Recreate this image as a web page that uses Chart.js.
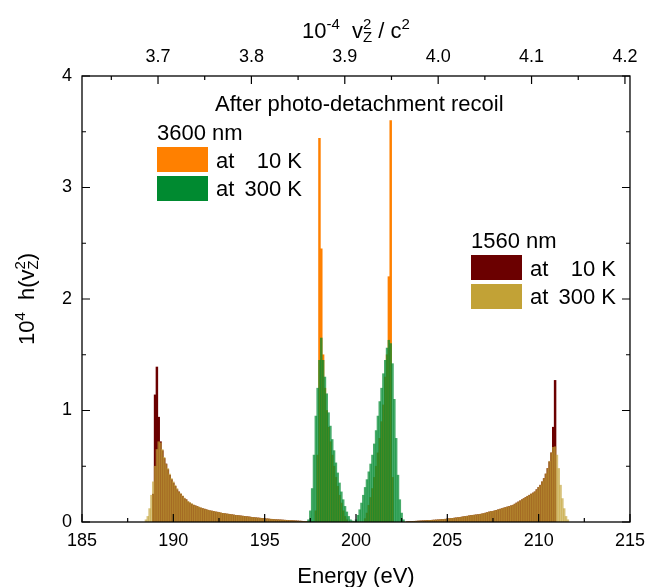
<!DOCTYPE html>
<html>
<head>
<meta charset="utf-8">
<script src="https://cdn.jsdelivr.net/npm/chart.js@4.4.1/dist/chart.umd.min.js"></script>
<style>
  html, body { margin: 0; padding: 0; background: #fff; }
</style>
</head>
<body>
<canvas id="chart" width="653" height="587"></canvas>
<script>
// histogram bins are 0.1 eV wide, each array starts at the given bin centre
const binWidth = 0.1;
const energyMin = 185;
const energyMax = 215;
// 10^-4 v_z^2/c^2 per eV
const vScale = 0.01956;

const energyTicks = [185, 190, 195, 200, 205, 210, 215];
const yTicks = [0, 1, 2, 3, 4];

// 1560 nm at 10 K
const start1560coldLow = 188.9;
const h1560coldLow = [
  0.25, 1.14, 1.39, 0.94, 0.72, 0.64, 0.57, 0.52, 0.47, 0.42, 0.38,
  0.35, 0.32, 0.29, 0.27, 0.25, 0.23, 0.21, 0.20, 0.18, 0.17,
  0.16, 0.15, 0.145, 0.14, 0.13, 0.125, 0.12, 0.115, 0.11, 0.105,
  0.10, 0.098, 0.095, 0.09, 0.088, 0.085, 0.08, 0.078, 0.075, 0.072,
  0.07, 0.068, 0.065, 0.063, 0.06, 0.058, 0.056, 0.054, 0.052, 0.05,
  0.048, 0.046, 0.044, 0.042, 0.04, 0.038, 0.036, 0.035, 0.033, 0.031,
  0.03, 0.028, 0.027, 0.025, 0.024, 0.022, 0.021, 0.02, 0.019, 0.018,
  0.017, 0.016, 0.015, 0.014, 0.013, 0.012, 0.011, 0.01, 0.009, 0.008,
  0.007, 0.006, 0.005, 0.004, 0.003, 0.003, 0.002, 0.001
];
const start1560coldHigh = 202.8;
const h1560coldHigh = [
  0.002, 0.003,
  0.004, 0.005, 0.006, 0.007, 0.008, 0.009, 0.01, 0.011, 0.012, 0.013,
  0.014, 0.015, 0.016, 0.017, 0.018, 0.019, 0.02, 0.022, 0.023, 0.025,
  0.027, 0.029, 0.031, 0.033, 0.035, 0.037, 0.039, 0.041, 0.044, 0.047,
  0.05, 0.052, 0.055, 0.058, 0.06, 0.062, 0.064, 0.066, 0.069, 0.072,
  0.075, 0.08, 0.085, 0.09, 0.093, 0.096, 0.10, 0.105, 0.11, 0.115,
  0.12, 0.125, 0.13, 0.135, 0.14, 0.145, 0.15, 0.16, 0.17, 0.18,
  0.19, 0.20, 0.21, 0.22, 0.23, 0.24, 0.25, 0.26, 0.27, 0.29,
  0.31, 0.33, 0.36, 0.39, 0.43, 0.48, 0.54, 0.62, 0.85, 1.27
];

// 1560 nm at 300 K
const start1560warmLow = 188.5;
const h1560warmLow = [
  0.02, 0.05, 0.12, 0.24, 0.36, 0.50, 0.65, 0.72, 0.71, 0.65, 0.58, 0.52, 0.48, 0.43, 0.39,
  0.36, 0.33, 0.30, 0.27, 0.255, 0.235, 0.215, 0.20, 0.185, 0.175,
  0.165, 0.155, 0.145, 0.14, 0.135, 0.128, 0.12, 0.117, 0.11, 0.107,
  0.102, 0.098, 0.096, 0.092, 0.088, 0.086, 0.082, 0.078, 0.076, 0.073,
  0.071, 0.068, 0.066, 0.063, 0.061, 0.058, 0.057, 0.054, 0.053, 0.05,
  0.049, 0.046, 0.045, 0.042, 0.041, 0.038, 0.037, 0.035, 0.034, 0.031,
  0.031, 0.028, 0.028, 0.025, 0.025, 0.022, 0.022, 0.02, 0.02, 0.018,
  0.018, 0.016, 0.016, 0.014, 0.014, 0.012, 0.012, 0.01, 0.01, 0.008,
  0.008, 0.006, 0.006, 0.005, 0.004, 0.003, 0.003, 0.002, 0.001, 0.001
];
const start1560warmHigh = 202.7;
const h1560warmHigh = [
  0.001, 0.002, 0.003,
  0.004, 0.005, 0.007, 0.007, 0.009, 0.009, 0.011, 0.011, 0.013, 0.013,
  0.015, 0.015, 0.017, 0.017, 0.019, 0.019, 0.021, 0.022, 0.024, 0.025,
  0.028, 0.029, 0.032, 0.033, 0.036, 0.037, 0.040, 0.041, 0.045, 0.047,
  0.051, 0.052, 0.056, 0.058, 0.061, 0.062, 0.065, 0.066, 0.07, 0.072,
  0.076, 0.08, 0.086, 0.09, 0.094, 0.096, 0.101, 0.105, 0.111, 0.115,
  0.121, 0.125, 0.131, 0.135, 0.141, 0.145, 0.152, 0.16, 0.171, 0.18,
  0.191, 0.20, 0.211, 0.22, 0.232, 0.24, 0.252, 0.26, 0.272, 0.29,
  0.312, 0.33, 0.362, 0.39, 0.432, 0.48, 0.545, 0.62, 0.67, 0.675,
  0.60, 0.48, 0.33, 0.21, 0.12, 0.05, 0.02
];

// 3600 nm at 10 K
const start3600cold = 197.8;
const h3600cold = [
  0.1, 0.6, 3.44, 2.45, 1.5, 1.2, 1.0, 0.85, 0.72, 0.6, 0.5, 0.4,
  0.32, 0.24, 0.17, 0.1, 0.05, 0.02,
  0, 0, 0, 0, 0, 0, 0, 0, 0,
  0.03, 0.08, 0.15, 0.22, 0.3, 0.4, 0.5, 0.62, 0.75, 0.9,
  1.05, 1.3, 1.5, 2.2, 3.6, 0.4
];

// 3600 nm at 300 K
const start3600warm = 197.4;
const h3600warm = [
  0.02, 0.1, 0.3, 0.6, 0.95, 1.2, 1.45, 1.65, 1.45, 1.30, 1.15, 0.98, 0.86,
  0.74, 0.64, 0.53, 0.44, 0.35, 0.27, 0.2, 0.14, 0.09, 0.05, 0.02, 0.01, 0.005,
  0.02, 0.06, 0.11, 0.17, 0.24, 0.31, 0.38, 0.45, 0.52, 0.6,
  0.7, 0.82, 0.95, 1.08, 1.2, 1.33, 1.45, 1.56, 1.63, 1.6,
  1.42, 1.1, 0.75, 0.42, 0.2, 0.08, 0.02
];

const seriesColors = {
  c3600cold: [255, 128, 0],
  c3600warm: [0, 138, 48],
  c1560cold: [107, 0, 0],
  c1560warm: [194, 162, 54]
};

function rgba(c, a) {
  return 'rgba(' + c[0] + ',' + c[1] + ',' + c[2] + ',' + a + ')';
}

function toPoints(start, heights) {
  let pts = [];
  heights.forEach(function (h, i) {
    // keep bin centres on the exact same 0.1 grid for every series
    pts.push({ x: Math.round(start / binWidth + i) * binWidth, y: h });
  });
  return pts;
}

const fontFamily = '"Liberation Sans", Arial, Helvetica, sans-serif';

// text with super/subscripts: parts are {t} or {sup, sub}
function richWidth(ctx, parts, size) {
  let w = 0;
  parts.forEach(function (p) {
    if (p.t !== undefined) {
      ctx.font = size + 'px ' + fontFamily;
      w += ctx.measureText(p.t).width;
    } else {
      ctx.font = Math.round(size * 0.68) + 'px ' + fontFamily;
      let a = p.sup ? ctx.measureText(p.sup).width : 0;
      let b = p.sub ? ctx.measureText(p.sub).width : 0;
      w += Math.max(a, b);
    }
  });
  return w;
}

function drawRich(ctx, parts, cx, baseY, size) {
  let x = cx - richWidth(ctx, parts, size) / 2;
  ctx.textAlign = 'left';
  ctx.textBaseline = 'alphabetic';
  parts.forEach(function (p) {
    if (p.t !== undefined) {
      ctx.font = size + 'px ' + fontFamily;
      ctx.fillText(p.t, x, baseY);
      x += ctx.measureText(p.t).width;
    } else {
      ctx.font = Math.round(size * 0.68) + 'px ' + fontFamily;
      let a = 0, b = 0;
      if (p.sup) { ctx.fillText(p.sup, x, baseY - size * 0.42); a = ctx.measureText(p.sup).width; }
      if (p.sub) { ctx.fillText(p.sub, x, baseY + size * 0.2); b = ctx.measureText(p.sub).width; }
      x += Math.max(a, b);
    }
  });
}

const framePlugin = {
  id: 'frame',
  afterDraw(chart) {
    const ctx = chart.ctx;
    const area = chart.chartArea;
    const sx = chart.scales.x, sx2 = chart.scales.x2, sy = chart.scales.y;
    ctx.save();
    ctx.strokeStyle = '#000';
    ctx.lineWidth = 1.3;
    ctx.strokeRect(area.left, area.top, area.right - area.left, area.bottom - area.top);

    ctx.lineWidth = 1.2;
    ctx.beginPath();
    for (let v = energyMin; v <= energyMax; v += 2.5) {
      let px = sx.getPixelForValue(v);
      let len = (v % 5 === 0) ? 8 : 4;
      ctx.moveTo(px, area.bottom);
      ctx.lineTo(px, area.bottom - len);
    }
    for (let k = 73; k <= 84; k++) {
      let v = k * 0.05;
      if (v < sx2.min || v > sx2.max) continue;
      let px = sx2.getPixelForValue(v);
      let len = (k % 2 === 0) ? 8 : 4;
      ctx.moveTo(px, area.top);
      ctx.lineTo(px, area.top + len);
    }
    for (let k = 0; k <= 8; k++) {
      let py = sy.getPixelForValue(k * 0.5);
      let len = (k % 2 === 0) ? 8 : 4;
      ctx.moveTo(area.left, py);
      ctx.lineTo(area.left + len, py);
      ctx.moveTo(area.right, py);
      ctx.lineTo(area.right - len, py);
    }
    ctx.stroke();

    ctx.fillStyle = '#000';
    const cx = (area.left + area.right) / 2;
    // axis titles
    drawRich(ctx, [{ t: '10' }, { sup: '-4' }, { t: '  v' }, { sup: '2', sub: 'Z' }, { t: ' / c' }, { sup: '2' }], cx, 38, 22);
    drawRich(ctx, [{ t: 'Energy (eV)' }], cx, 583, 22);
    ctx.save();
    ctx.translate(34, (area.top + area.bottom) / 2);
    ctx.rotate(-Math.PI / 2);
    drawRich(ctx, [{ t: '10' }, { sup: '4' }, { t: '  h(v' }, { sup: '2', sub: 'Z' }, { t: ')' }], 0, 0, 22);
    ctx.restore();

    ctx.font = '22px ' + fontFamily;
    ctx.textAlign = 'left';
    ctx.fillText('After photo-detachment recoil', 215, 111);

    // legends
    const groups = [
      { title: '3600 nm', x: 157, y: 140, cold: seriesColors.c3600cold, warm: seriesColors.c3600warm },
      { title: '1560 nm', x: 471, y: 248, cold: seriesColors.c1560cold, warm: seriesColors.c1560warm }
    ];
    groups.forEach(function (g) {
      ctx.font = '22px ' + fontFamily;
      ctx.fillStyle = '#000';
      ctx.textAlign = 'left';
      ctx.fillText(g.title, g.x, g.y);
      ctx.fillStyle = rgba(g.cold, 1);
      ctx.fillRect(g.x, g.y + 7, 51, 25);
      ctx.fillStyle = rgba(g.warm, 1);
      ctx.fillRect(g.x, g.y + 36, 51, 25);
      ctx.fillStyle = '#000';
      ctx.fillText('at', g.x + 59, g.y + 28);
      ctx.fillText('at', g.x + 59, g.y + 56);
      ctx.textAlign = 'right';
      ctx.fillText('10 K', g.x + 145, g.y + 28);
      ctx.fillText('300 K', g.x + 145, g.y + 56);
    });
    ctx.restore();
  }
};

const tickFont = { family: fontFamily, size: 18 };

new Chart(document.getElementById('chart'), {
  type: 'bar',
  data: {
    datasets: [
      {
        label: '3600 nm at 300 K',
        data: toPoints(start3600warm, h3600warm),
        backgroundColor: rgba(seriesColors.c3600warm, 0.72),
        order: 1
      },
      {
        label: '3600 nm at 10 K',
        data: toPoints(start3600cold, h3600cold),
        backgroundColor: rgba(seriesColors.c3600cold, 1),
        order: 2
      },
      {
        label: '1560 nm at 300 K',
        data: toPoints(start1560warmLow, h1560warmLow).concat(toPoints(start1560warmHigh, h1560warmHigh)),
        backgroundColor: rgba(seriesColors.c1560warm, 0.66),
        order: 3
      },
      {
        label: '1560 nm at 10 K',
        data: toPoints(start1560coldLow, h1560coldLow).concat(toPoints(start1560coldHigh, h1560coldHigh)),
        backgroundColor: rgba(seriesColors.c1560cold, 1),
        order: 4
      }
    ]
  },
  options: {
    responsive: false,
    animation: false,
    layout: { padding: 0 },
    datasets: {
      bar: { barPercentage: 1, categoryPercentage: 1, grouped: false, borderWidth: 0 }
    },
    plugins: {
      legend: { display: false },
      tooltip: { enabled: false }
    },
    scales: {
      x: {
        type: 'linear',
        position: 'bottom',
        offset: false,
        min: energyMin,
        max: energyMax,
        afterBuildTicks: function (s) { s.ticks = energyTicks.map(function (v) { return { value: v }; }); },
        ticks: { font: tickFont, color: '#000', padding: 8, maxRotation: 0 },
        grid: { display: false, drawTicks: false },
        border: { display: false },
        afterFit: function (s) { s.height = 65; }
      },
      x2: {
        type: 'linear',
        position: 'top',
        offset: false,
        min: energyMin * vScale,
        max: energyMax * vScale,
        ticks: {
          font: tickFont, color: '#000', padding: 8, maxRotation: 0,
          stepSize: 0.1, includeBounds: false,
          callback: function (v) { return v.toFixed(1); }
        },
        grid: { display: false, drawTicks: false },
        border: { display: false },
        afterFit: function (s) { s.height = 76; }
      },
      y: {
        min: 0,
        max: 4,
        afterBuildTicks: function (s) { s.ticks = yTicks.map(function (v) { return { value: v }; }); },
        ticks: { font: tickFont, color: '#000', padding: 10 },
        grid: { display: false, drawTicks: false },
        border: { display: false },
        afterFit: function (s) { s.width = 82; }
      },
      y2: {
        type: 'linear',
        position: 'right',
        min: 0,
        max: 4,
        ticks: { display: false },
        grid: { display: false, drawTicks: false },
        border: { display: false },
        afterFit: function (s) { s.width = 15; }
      }
    }
  },
  plugins: [framePlugin]
});
</script>
</body>
</html>
